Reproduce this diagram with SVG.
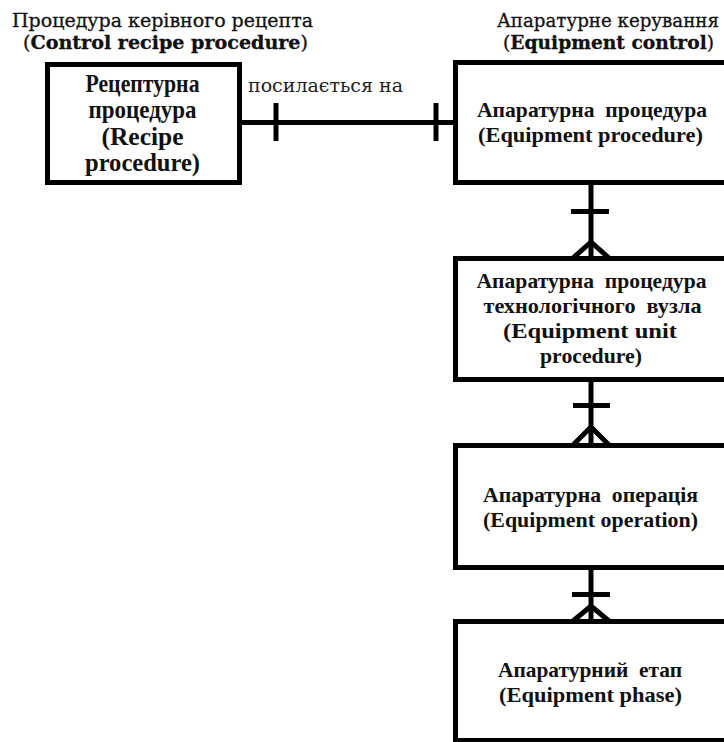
<svg xmlns="http://www.w3.org/2000/svg" width="724" height="742" viewBox="0 0 724 742">
  <style>
    .box { fill: #ffffff; stroke: #000000; stroke-width: 5; }
    .conn { fill: none; stroke: #000000; stroke-width: 5; }
    .title { font-family: "DejaVu Serif", "Liberation Serif", serif; font-size: 18px; fill: #111111; stroke: #111111; stroke-width: 0.3; }
    .lbl { font-family: "Liberation Serif", "DejaVu Serif", serif; font-size: 22px; font-weight: bold; fill: #111111; text-anchor: middle; }
    .big { font-size: 25px; }
    .note { font-family: "DejaVu Serif", "Liberation Serif", serif; font-size: 19px; fill: #222222; }
  </style>

  <!-- group headings -->
  <g id="heading-control-recipe">
    <text class="title" x="12" y="27" textLength="301" lengthAdjust="spacingAndGlyphs">Процедура керівного рецепта</text>
    <text class="title" x="23" y="49" textLength="285" lengthAdjust="spacingAndGlyphs">(<tspan font-weight="bold">Control recipe procedure</tspan>)</text>
  </g>
  <g id="heading-equipment-control">
    <text class="title" x="497" y="27" textLength="222" lengthAdjust="spacingAndGlyphs">Апаратурне керування</text>
    <text class="title" x="503" y="49" textLength="211" lengthAdjust="spacingAndGlyphs">(<tspan font-weight="bold">Equipment control</tspan>)</text>
  </g>

  <!-- connectors -->
  <g id="connectors">
    <!-- recipe procedure -> equipment procedure (one to one) -->
    <line class="conn" x1="242" y1="122.5" x2="455" y2="122.5"/>
    <line class="conn" x1="276" y1="103" x2="276" y2="141"/>
    <line class="conn" x1="436" y1="103" x2="436" y2="141"/>
    <text class="note" x="248" y="92" textLength="155" lengthAdjust="spacingAndGlyphs">посилається на</text>

    <!-- equipment procedure -> unit procedure (one to many) -->
    <line class="conn" x1="591" y1="185" x2="591" y2="258"/>
    <line class="conn" x1="571" y1="211.5" x2="609" y2="211.5"/>
    <polyline class="conn" points="573,258 591,242 609,258"/>

    <!-- unit procedure -> operation (one to many) -->
    <line class="conn" x1="591" y1="382" x2="591" y2="445"/>
    <line class="conn" x1="573" y1="405.5" x2="610" y2="405.5"/>
    <polyline class="conn" points="573,445 591,427 609,445"/>

    <!-- operation -> phase (one to many) -->
    <line class="conn" x1="591" y1="570" x2="591" y2="621"/>
    <line class="conn" x1="572" y1="594.5" x2="610" y2="594.5"/>
    <polyline class="conn" points="573,621 591,606 609,621"/>
  </g>

  <!-- nodes -->
  <g id="recipe-procedure">
    <rect class="box" x="47.5" y="64.5" width="192" height="118"/>
    <text class="lbl big" x="142.5" y="92" textLength="114" lengthAdjust="spacingAndGlyphs">Рецептурна</text>
    <text class="lbl big" x="142.5" y="118" textLength="108" lengthAdjust="spacingAndGlyphs">процедура</text>
    <text class="lbl big" x="142.5" y="145" textLength="82" lengthAdjust="spacingAndGlyphs">(Recipe</text>
    <text class="lbl big" x="142.5" y="171" textLength="115" lengthAdjust="spacingAndGlyphs">procedure)</text>
  </g>

  <g id="equipment-procedure">
    <rect class="box" x="455.5" y="62.5" width="271" height="120"/>
    <text class="lbl" x="592" y="117" xml:space="preserve" textLength="230" lengthAdjust="spacingAndGlyphs">Апаратурна  процедура</text>
    <text class="lbl" x="590.5" y="142" textLength="225" lengthAdjust="spacingAndGlyphs">(Equipment procedure)</text>
  </g>

  <g id="equipment-unit-procedure">
    <rect class="box" x="455.5" y="258.5" width="271" height="121"/>
    <text class="lbl" x="591.5" y="288" xml:space="preserve" textLength="230" lengthAdjust="spacingAndGlyphs">Апаратурна  процедура</text>
    <text class="lbl" x="592.5" y="313" xml:space="preserve" textLength="218" lengthAdjust="spacingAndGlyphs">технологічного  вузла</text>
    <text class="lbl" x="590" y="338" textLength="174" lengthAdjust="spacingAndGlyphs">(Equipment unit</text>
    <text class="lbl" x="591" y="363" textLength="102" lengthAdjust="spacingAndGlyphs">procedure)</text>
  </g>

  <g id="equipment-operation">
    <rect class="box" x="455.5" y="445.5" width="271" height="122"/>
    <text class="lbl" x="590.5" y="502" xml:space="preserve" textLength="215" lengthAdjust="spacingAndGlyphs">Апаратурна  операція</text>
    <text class="lbl" x="590.5" y="527" textLength="215" lengthAdjust="spacingAndGlyphs">(Equipment operation)</text>
  </g>

  <g id="equipment-phase">
    <rect class="box" x="455.5" y="621.5" width="271" height="119"/>
    <text class="lbl" x="590" y="677" xml:space="preserve" textLength="184" lengthAdjust="spacingAndGlyphs">Апаратурний  етап</text>
    <text class="lbl" x="590.5" y="702" textLength="183" lengthAdjust="spacingAndGlyphs">(Equipment phase)</text>
  </g>
</svg>
